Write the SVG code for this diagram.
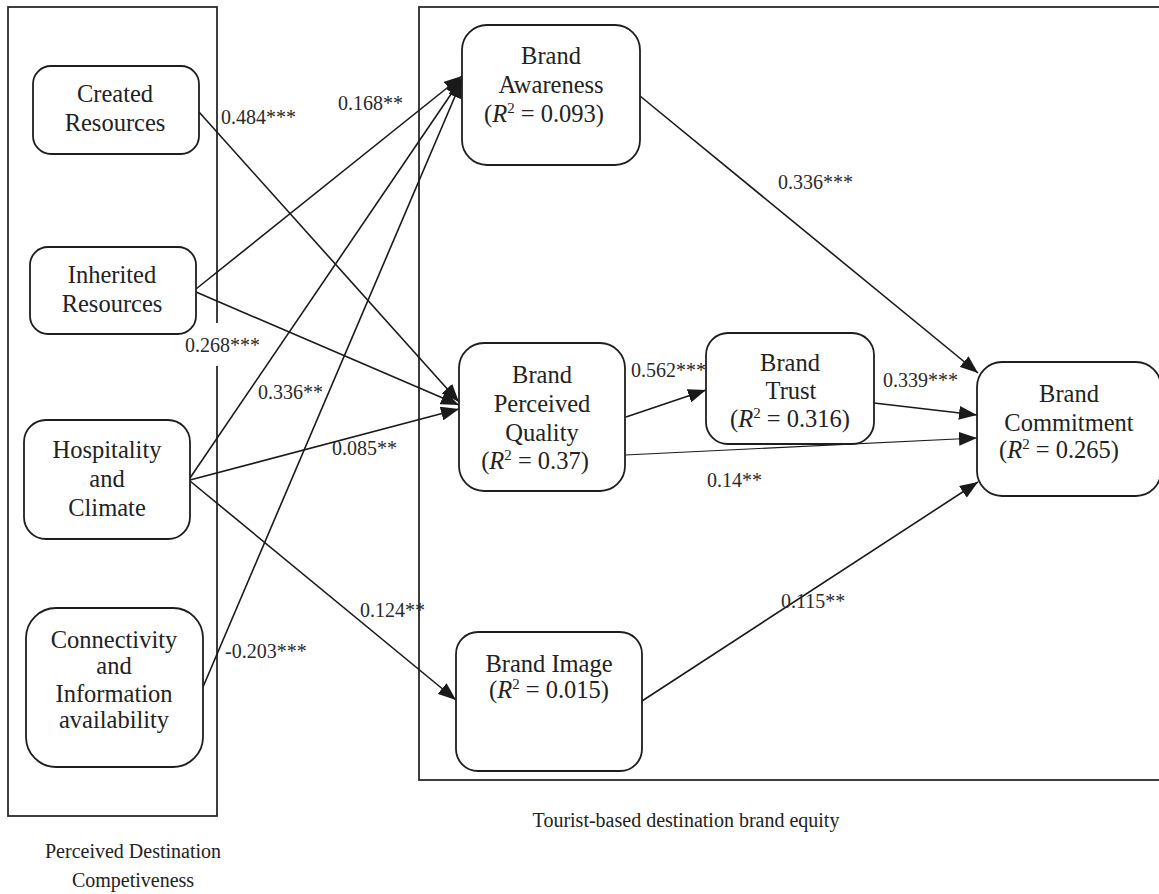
<svg xmlns="http://www.w3.org/2000/svg" width="1159" height="894" viewBox="0 0 1159 894">
  <style>
    .frame { fill: none; stroke: #2a2a2a; stroke-width: 1.8; }
    .node { font-family: "Liberation Serif", "Times New Roman", serif; font-size: 24.5px; text-anchor: middle; fill: #222222; }
    .box { fill: #ffffff; stroke: #1e1e1e; stroke-width: 1.8; }
    .caption { font-family: "Liberation Serif", "Times New Roman", serif; font-size: 20px; fill: #222222; text-anchor: middle; }
    .lbl { font-family: "Liberation Serif", "Times New Roman", serif; font-size: 20px; fill: #2a2a2a; }
    .edge { fill: none; stroke: #1a1a1a; stroke-width: 1.6; marker-end: url(#arrow); }
    .thin { stroke-width: 1.1; }
    .sup { font-size: 15px; }
  </style>
  <defs>
    <marker id="arrow" markerUnits="userSpaceOnUse" markerWidth="20" markerHeight="14" refX="18" refY="7" orient="auto">
      <path d="M0,0 L18,7 L0,14 z" fill="#1a1a1a"/>
    </marker>
  </defs>

  <rect width="1159" height="894" fill="#ffffff"/>

  <!-- Group frames -->
  <g id="frames">
    <rect class="frame" x="8" y="7" width="209" height="809"/>
    <rect class="frame" x="419" y="7" width="745" height="773"/>
  </g>

  <!-- Connectors -->
  <g id="connectors">
    <line class="edge" x1="199" y1="112" x2="459" y2="402"/>
    <line class="edge" x1="196" y1="292" x2="459" y2="405"/>
    <line class="edge" x1="190" y1="480" x2="459" y2="409"/>
    <line class="edge" x1="196" y1="289" x2="462" y2="76"/>
    <line class="edge" x1="190" y1="478" x2="462" y2="78"/>
    <line class="edge" x1="203" y1="687" x2="462" y2="80"/>
    <line class="edge" x1="190" y1="481" x2="456" y2="700"/>
    <line class="edge" x1="640" y1="96" x2="978" y2="373"/>
    <line class="edge" x1="626" y1="417" x2="706" y2="390"/>
    <line class="edge thin" x1="625" y1="455" x2="977" y2="438"/>
    <line class="edge" x1="874" y1="403" x2="977" y2="415"/>
    <line class="edge" x1="642" y1="701" x2="978" y2="482"/>
  </g>

  <!-- Path coefficients -->
  <g id="labels">
    <rect x="205" y="323" width="24" height="43" fill="#ffffff"/>
    <text class="lbl" x="221" y="124">0.484***</text>
    <text class="lbl" x="338" y="110">0.168**</text>
    <text class="lbl" x="185" y="352">0.268***</text>
    <text class="lbl" x="258" y="399">0.336**</text>
    <text class="lbl" x="332" y="455">0.085**</text>
    <text class="lbl" x="631" y="377">0.562***</text>
    <text class="lbl" x="707" y="487">0.14**</text>
    <text class="lbl" x="883" y="387">0.339***</text>
    <text class="lbl" x="778" y="189">0.336***</text>
    <text class="lbl" x="360" y="617">0.124**</text>
    <text class="lbl" x="225" y="658">-0.203***</text>
    <text class="lbl" x="781" y="608">0.115**</text>
  </g>

  <!-- Perceived destination competitiveness -->
  <g id="created-resources" class="node">
    <rect class="box" x="33" y="66" width="166" height="88" rx="18"/>
    <text x="115" y="102">Created</text>
    <text x="115" y="131">Resources</text>
  </g>
  <g id="inherited-resources" class="node">
    <rect class="box" x="30" y="247" width="166" height="87" rx="18"/>
    <text x="112" y="283">Inherited</text>
    <text x="112" y="312">Resources</text>
  </g>
  <g id="hospitality-climate" class="node">
    <rect class="box" x="24" y="420" width="166" height="119" rx="22"/>
    <text x="107" y="458">Hospitality</text>
    <text x="107" y="487">and</text>
    <text x="107" y="516">Climate</text>
  </g>
  <g id="connectivity" class="node">
    <rect class="box" x="26" y="608" width="177" height="159" rx="30"/>
    <text x="114" y="648">Connectivity</text>
    <text x="114" y="674">and</text>
    <text x="114" y="702">Information</text>
    <text x="114" y="728">availability</text>
  </g>

  <!-- Tourist-based destination brand equity -->
  <g id="brand-awareness" class="node">
    <rect class="box" x="462" y="25" width="178" height="140" rx="25"/>
    <text x="551" y="64">Brand</text>
    <text x="551" y="93">Awareness</text>
    <text x="544" y="122">(<tspan font-style="italic">R</tspan><tspan class="sup" dy="-9">2</tspan><tspan dy="9"> = 0.093)</tspan></text>
  </g>
  <g id="brand-perceived-quality" class="node">
    <rect class="box" x="459" y="343" width="166" height="148" rx="25"/>
    <text x="542" y="383">Brand</text>
    <text x="542" y="412">Perceived</text>
    <text x="542" y="441">Quality</text>
    <text x="535" y="469">(<tspan font-style="italic">R</tspan><tspan class="sup" dy="-9">2</tspan><tspan dy="9"> = 0.37)</tspan></text>
  </g>
  <g id="brand-trust" class="node">
    <rect class="box" x="706" y="333" width="168" height="111" rx="22"/>
    <text x="790" y="371">Brand</text>
    <text x="791" y="399">Trust</text>
    <text x="790" y="427">(<tspan font-style="italic">R</tspan><tspan class="sup" dy="-9">2</tspan><tspan dy="9"> = 0.316)</tspan></text>
  </g>
  <g id="brand-commitment" class="node">
    <rect class="box" x="977" y="362" width="184" height="134" rx="25"/>
    <text x="1069" y="402">Brand</text>
    <text x="1069" y="431">Commitment</text>
    <text x="1059" y="458">(<tspan font-style="italic">R</tspan><tspan class="sup" dy="-9">2</tspan><tspan dy="9"> = 0.265)</tspan></text>
  </g>
  <g id="brand-image" class="node">
    <rect class="box" x="456" y="632" width="186" height="139" rx="22"/>
    <text x="549" y="672">Brand Image</text>
    <text x="549" y="698">(<tspan font-style="italic">R</tspan><tspan class="sup" dy="-9">2</tspan><tspan dy="9"> = 0.015)</tspan></text>
  </g>

  <!-- Group captions -->
  <g id="captions">
    <text class="caption" x="686" y="827">Tourist-based destination brand equity</text>
    <text class="caption" x="133" y="858">Perceived Destination</text>
    <text class="caption" x="133" y="887">Competiveness</text>
  </g>
</svg>
